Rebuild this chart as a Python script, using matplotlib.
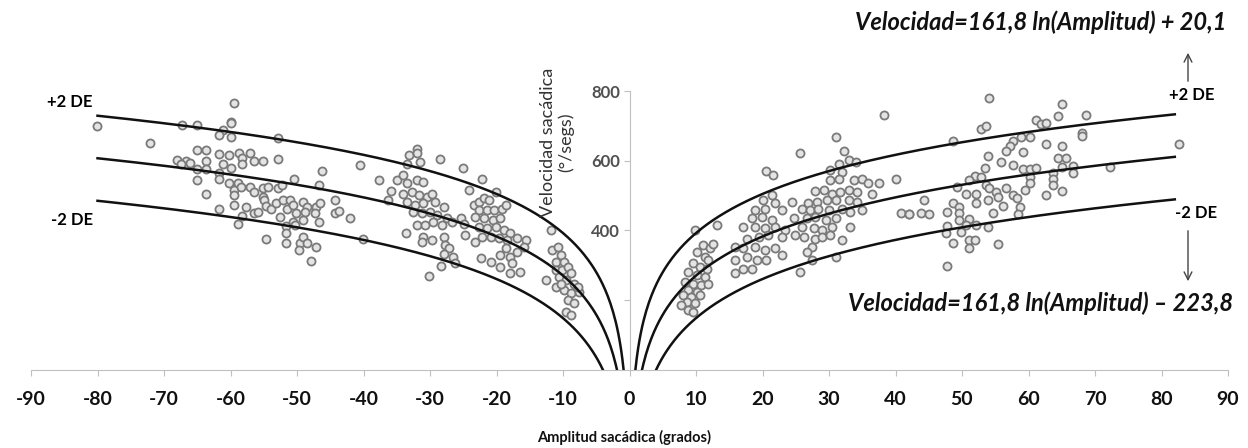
import numpy as np
import matplotlib.pyplot as plt

plt.rcParams['font.family'] = ['Lato', 'DejaVu Sans']

# Saccade samples, leftward movements (negative amplitude)
left_amp = [
    -80.1, -59.4, -72.1, -67.3, -65.0, -60.0, -60.0, -61.2, -61.7, -59.9, -52.9, -65.0, -63.7,
    -68.0, -66.7, -66.1, -67.4, -65.0, -63.7, -63.7, -61.8, -60.2, -58.7, -57.1, -58.2, -61.2,
    -59.9, -58.2, -56.5, -55.1, -52.9, -61.8, -61.8, -65.0, -60.2, -58.9, -59.4, -59.4, -58.4,
    -57.1, -56.4, -55.1, -55.1, -54.4, -52.9, -52.3, -50.5, -46.2, -46.7, -40.5, -63.7, -59.4,
    -57.7, -61.8, -58.2, -56.5, -55.9, -54.9, -54.6, -53.9, -53.1, -52.6, -52.1, -51.1, -51.5,
    -50.6, -50.1, -49.1, -48.5, -48.8, -47.1, -46.5, -47.3, -49.1, -50.6, -46.7, -44.3, -44.3,
    -43.7, -42.0, -51.6, -51.6, -51.7, -54.7, -50.3, -49.6, -49.1, -49.7, -48.5, -47.2, -47.9,
    -58.9, -40.1, -37.6,
    -32.0, -33.1, -31.9, -31.5, -33.5, -28.5, -25.0, -22.2, -35.0, -34.1, -33.5, -32.0, -31.0,
    -35.8, -36.3, -34.0, -32.7, -31.7, -30.5, -29.7, -33.5, -32.2, -31.0, -29.2, -27.9, -32.5,
    -31.2, -30.0, -29.0, -32.0, -30.7, -29.5, -28.2, -27.4, -26.7, -33.6, -31.1, -31.2, -29.7,
    -27.9, -27.7, -27.2, -27.9, -26.5, -26.2, -28.4, -30.2, -25.4, -24.9, -24.7, -23.4, -22.7,
    -21.9, -21.1, -20.1, -22.7, -21.4, -20.4, -19.1, -18.6, -23.2, -21.9, -20.6, -19.4, -22.7,
    -21.4, -20.1, -18.9, -17.9, -23.2, -22.2, -20.9, -19.6, -18.4, -16.9, -15.6, -22.4, -20.9,
    -19.4, -17.9, -16.9, -17.6, -16.4, -17.9, -19.4, -15.9, -18.6, -24.2,
    -11.8, -11.6, -10.8, -10.3, -11.1, -9.8, -12.6, -11.1, -10.1, -9.3, -8.8, -10.6, -9.6,
    -8.3, -11.1, -9.8, -8.8, -7.6, -9.3, -8.3, -9.6, -8.8, -7.8, -10.3,
]
left_vel = [
    700, 767, 651, 702, 702, 711, 708, 688, 675, 669, 666, 630, 632,
    602, 599, 594, 590, 576, 599, 576, 618, 616, 623, 623, 607, 590,
    578, 590, 599, 599, 604, 564, 549, 545, 535, 535, 516, 502, 525,
    525, 511, 521, 497, 525, 521, 530, 549, 570, 530, 588, 504, 473,
    466, 461, 441, 449, 454, 487, 470, 463, 478, 439, 487, 487, 463,
    473, 449, 482, 468, 454, 468, 478, 449, 430, 425, 423, 487, 449,
    457, 437, 413, 392, 363, 375, 416, 363, 382, 344, 365, 353, 313,
    418, 377, 546,
    635, 616, 621, 597, 592, 604, 578, 549, 545, 559, 535, 545, 540,
    513, 487, 506, 511, 502, 497, 506, 482, 473, 478, 482, 468, 454,
    449, 454, 444, 416, 416, 425, 416, 435, 425, 392, 382, 368, 373,
    382, 358, 349, 334, 325, 306, 298, 270, 435, 420, 387, 473, 482,
    492, 487, 511, 459, 459, 459, 463, 473, 439, 435, 430, 435, 411,
    406, 411, 401, 392, 368, 382, 382, 378, 373, 378, 373, 320, 310,
    330, 325, 339, 306, 282, 277, 296, 353, 349, 516,
    401, 344, 353, 330, 310, 310, 258, 287, 287, 296, 277, 267, 258,
    248, 239, 229, 220, 224, 201, 191, 167, 158, 239, 248,
]

# Saccade samples, rightward movements
right_amp = [
    31.0, 25.7, 32.2, 20.5, 21.6, 9.9, 13.1, 31.5, 33.0, 34.0, 30.2, 32.0, 30.2, 31.5, 33.7,
    35.0, 35.8, 37.5, 40.1, 27.9, 29.2, 30.5, 31.7, 33.0, 34.2, 36.5, 20.1, 21.4, 21.9, 24.4,
    26.9, 28.2, 29.7, 31.0, 33.0, 34.2, 20.4, 18.9, 22.9, 25.9, 27.2, 28.4, 30.0, 32.0, 33.2,
    35.0, 40.8, 42.0, 18.4, 19.9, 21.4, 24.7, 26.7, 27.9, 29.5, 31.0, 17.1, 18.9, 20.4, 21.9,
    23.4, 25.9, 27.7, 29.0, 30.5, 33.2, 17.6, 19.4, 20.9, 22.9, 24.9, 26.2, 27.9, 29.0, 30.2,
    32.0, 15.9, 17.1, 18.9, 20.4, 21.9, 27.4, 15.9, 17.6, 18.4, 17.1, 15.9, 19.1, 20.6, 22.9,
    26.7, 27.4, 25.7, 31.0,
    11.1, 12.1, 12.6, 10.1, 11.3, 11.8, 9.6, 10.6, 11.6, 8.8, 10.1, 11.3, 8.3, 9.6, 10.8,
    11.8, 8.8, 10.1, 8.1, 9.3, 10.6, 8.6, 9.8, 7.8, 8.8, 9.6,
    38.2, 54.0, 65.0, 64.5, 68.6, 61.2, 61.9, 62.6, 52.9, 53.6, 48.6, 68.0, 68.0, 57.7, 58.9,
    60.2, 57.2, 56.6, 62.6, 65.0, 82.6, 53.9, 55.9, 59.2, 64.5, 65.7, 57.6, 53.5, 59.2, 60.2,
    61.2, 65.0, 66.7, 66.7, 72.3, 63.7, 63.7, 63.7, 60.2, 60.2, 51.9, 52.9, 51.1, 53.6, 54.1,
    49.3, 50.6, 52.1, 55.1, 56.6, 57.7, 59.4, 62.6, 65.0, 53.9, 55.4, 58.2, 52.1, 44.3, 48.6,
    49.6, 56.1, 58.7, 42.0, 43.8, 45.1, 47.8, 49.6, 54.7, 58.4, 49.6, 47.8, 51.1, 50.6, 52.1,
    53.9, 47.6, 49.8, 48.6, 51.1, 51.9, 51.1, 55.4, 47.8,
]
right_vel = [
    667, 623, 629, 570, 559, 401, 416, 592, 602, 597, 573, 568, 545, 549, 545,
    549, 535, 535, 547, 514, 516, 506, 511, 516, 511, 506, 487, 502, 478, 482,
    478, 482, 487, 487, 487, 482, 463, 459, 459, 463, 459, 463, 459, 463, 454,
    459, 449, 447, 435, 439, 430, 435, 435, 439, 430, 435, 411, 411, 406, 411,
    401, 411, 406, 401, 411, 411, 377, 382, 387, 382, 387, 382, 377, 382, 387,
    373, 353, 349, 353, 344, 349, 353, 315, 325, 291, 291, 277, 315, 315, 330,
    339, 315, 282, 325,
    358, 349, 361, 339, 325, 315, 306, 296, 291, 282, 272, 267, 253, 248, 244,
    248, 229, 224, 215, 210, 215, 196, 191, 186, 172, 167,
    731, 780, 764, 728, 731, 717, 705, 709, 690, 699, 656, 680, 671, 656, 669,
    669, 642, 629, 647, 643, 647, 613, 597, 626, 609, 609, 588, 578, 575, 575,
    578, 581, 585, 565, 583, 564, 547, 530, 554, 535, 556, 554, 545, 530, 521,
    525, 506, 506, 511, 521, 502, 516, 502, 514, 487, 495, 492, 478, 487, 479,
    468, 470, 466, 446, 449, 446, 454, 451, 449, 447, 430, 413, 432, 416, 416,
    411, 394, 396, 365, 373, 373, 349, 361, 298,
]

# Main sequence fit: Velocidad = 161.8 ln(Amplitud) + c, for +2 DE, mean and -2 DE
slope = 161.8
intercepts = [20.1, -101.85, -223.8]

x_ticks = list(range(-90, 91, 10))
x_labels = ['-90', '-80', '-70', '-60', '-50', '-40', '-30', '-20', '-10', '0',
            '10', '20', '30', '40', '50', '60', '70', '80', '90']
y_ticks = [200, 400, 600, 800]
y_labels = ['', '400', '600', '800']

W, H = 1248, 448
fig = plt.figure(figsize=(W / 100, H / 100), dpi=100)
ax = fig.add_axes([31 / W, 78 / H, (1228 - 31) / W, (370 - 91) / H])

ax.scatter(left_amp, left_vel, s=34, facecolor='#e4e4e4', edgecolor='#7a7a7a',
           linewidth=1.3, zorder=2)
ax.scatter(right_amp, right_vel, s=34, facecolor='#e4e4e4', edgecolor='#7a7a7a',
           linewidth=1.3, zorder=2)

for c in intercepts:
    x0 = np.exp(-c / slope)
    xs = np.linspace(x0, 80, 400)
    ax.plot(-xs, slope * np.log(xs) + c, color='#111111', lw=1.8, zorder=3)
    xs = np.linspace(x0, 82, 400)
    ax.plot(xs, slope * np.log(xs) + c, color='#111111', lw=1.8, zorder=3)

ax.set_xlim(-90, 90)
ax.set_ylim(0, 800)
for s in ['top', 'right']:
    ax.spines[s].set_visible(False)
ax.spines['left'].set_position(('data', 0))
ax.spines['left'].set_color('#c0c0c0')
ax.spines['bottom'].set_color('#c0c0c0')
ax.spines['left'].set_zorder(1)

ax.set_xticks(x_ticks)
ax.set_xticklabels(x_labels, fontsize=14, fontweight='bold', color='#111111')
ax.set_yticks(y_ticks)
ax.set_yticklabels(y_labels, fontsize=12, fontweight='bold', color='#505050')
ax.tick_params(axis='x', length=4, color='#c0c0c0', pad=11)
ax.tick_params(axis='y', length=4, color='#c0c0c0', pad=3)


def fx(px):
    return px / W


def fy(py):
    return 1 - py / H


fig.text(fx(557), fy(142), 'Velocidad sacádica\n(°/segs)', rotation=90, ha='center',
         va='center', fontsize=13, color='#333333', linespacing=1.1)
fig.text(fx(624), fy(437), 'Amplitud sacádica (grados)', ha='center', va='center',
         fontsize=10.5, fontweight='bold', color='#111111')

fig.text(fx(70), fy(102), '+2 DE', ha='center', va='center', fontsize=12, fontweight='bold')
fig.text(fx(72), fy(220), '-2 DE', ha='center', va='center', fontsize=12, fontweight='bold')
fig.text(fx(1192), fy(95), '+2 DE', ha='center', va='center', fontsize=12, fontweight='bold')
fig.text(fx(1196), fy(213), '-2 DE', ha='center', va='center', fontsize=12, fontweight='bold')

fig.text(fx(1041), fy(22), 'Velocidad=161,8 ln(Amplitud) + 20,1', ha='center', va='center',
         fontsize=17, fontweight='bold', style='italic', color='#111111')
fig.text(fx(1041), fy(303), 'Velocidad=161,8 ln(Amplitud) \u2013 223,8', ha='center',
         va='center', fontsize=17, fontweight='bold', style='italic', color='#111111')

arrow = dict(arrowstyle='->', color='#444444', lw=1.0, mutation_scale=14)
fig.add_artist(plt.Annotation('', xy=(fx(1188), fy(50)), xytext=(fx(1188), fy(84)),
                              xycoords='figure fraction', textcoords='figure fraction',
                              arrowprops=arrow))
fig.add_artist(plt.Annotation('', xy=(fx(1188), fy(284)), xytext=(fx(1188), fy(228)),
                              xycoords='figure fraction', textcoords='figure fraction',
                              arrowprops=arrow))

fig.savefig('out.png', dpi=100)
